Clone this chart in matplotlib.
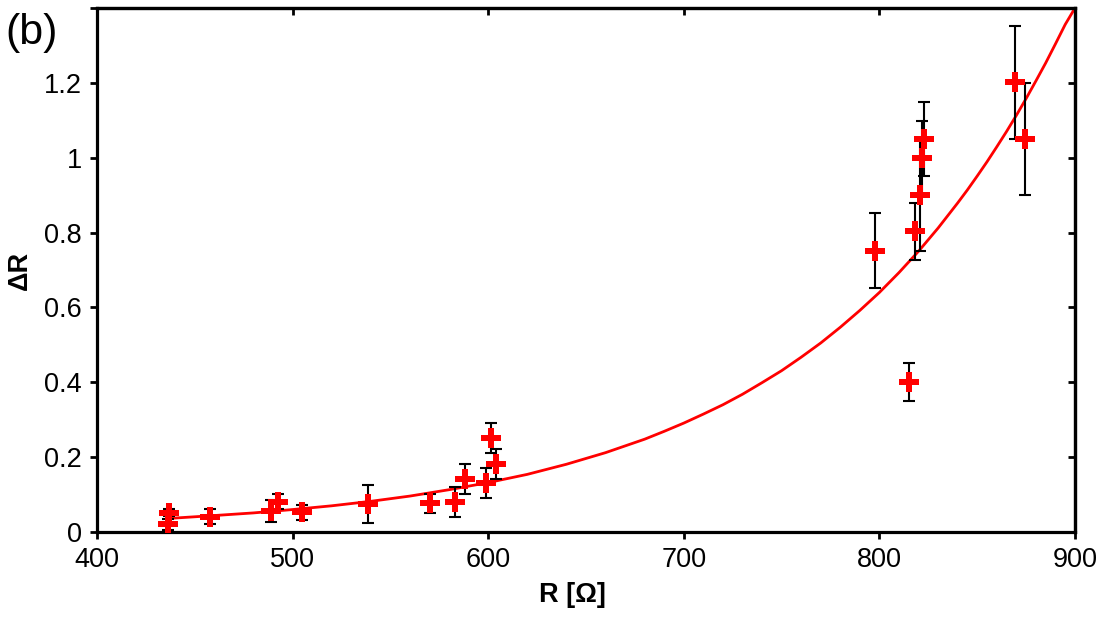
import matplotlib
matplotlib.use("Agg")
import matplotlib.pyplot as plt

plt.rcParams['font.family'] = ['Liberation Sans', 'DejaVu Sans']

# measured data: R [Ohm], Delta R, error
r_vals = [436.5, 437.0, 457.8, 488.8, 492.7, 504.6, 538.7, 570.2, 583.0, 588.1,
          598.9, 601.4, 604.0, 797.8, 815.1, 818.2, 820.8, 821.6, 822.8, 869.3, 874.4]
dr_vals = [0.021, 0.052, 0.041, 0.056, 0.081, 0.053, 0.075, 0.077, 0.081, 0.141,
           0.132, 0.252, 0.181, 0.752, 0.401, 0.803, 0.901, 0.999, 1.050, 1.201, 1.050]
dr_err = [0.015, 0.010, 0.020, 0.030, 0.020, 0.020, 0.050, 0.025, 0.040, 0.040,
          0.040, 0.040, 0.040, 0.100, 0.050, 0.075, 0.150, 0.100, 0.100, 0.150, 0.150]

# fitted trend curve
fit_r = [436, 460, 480, 500, 520, 540, 560, 580, 600, 620, 640, 660, 680, 690,
         700, 710, 720, 730, 740, 750, 760, 770, 780, 790, 800, 810, 820, 830,
         840, 845, 850, 855, 860, 865, 870, 875, 880, 885, 890, 895, 900]
fit_dr = [0.036, 0.044, 0.051, 0.060, 0.070, 0.082, 0.096, 0.113, 0.132, 0.154,
          0.181, 0.212, 0.248, 0.269, 0.291, 0.315, 0.340, 0.368, 0.399, 0.431,
          0.467, 0.505, 0.547, 0.592, 0.640, 0.693, 0.750, 0.812, 0.879, 0.914,
          0.951, 0.989, 1.029, 1.070, 1.113, 1.158, 1.205, 1.253, 1.304, 1.356,
          1.400]

x_ticks = [400, 500, 600, 700, 800, 900]
y_ticks = [0, 0.2, 0.4, 0.6, 0.8, 1.0, 1.2, 1.4]
y_tick_labels = ['0', '0.2', '0.4', '0.6', '0.8', '1', '1.2', '']

fig = plt.figure(figsize=(11, 6.4), dpi=100)
ax = fig.add_axes([97/1100, (640-532)/640, (1075-97)/1100, (532-8)/640])

ax.plot(fit_r, fit_dr, color='#FF0000', lw=2.0, zorder=2,
        solid_joinstyle='round', clip_on=True)
ax.errorbar(r_vals, dr_vals, yerr=dr_err, fmt='none', ecolor='black',
            elinewidth=1.5, capsize=4, capthick=1.5, zorder=3)
ax.plot(r_vals, dr_vals, linestyle='none', marker='P', markersize=14.5,
        color='#FF0000', markeredgewidth=0, zorder=4)

ax.set_xlim(400, 900)
ax.set_ylim(0, 1.4)
ax.set_xticks(x_ticks)
ax.set_yticks(y_ticks)
ax.set_yticklabels(y_tick_labels)

for s in ax.spines.values():
    s.set_linewidth(2.3)
ax.tick_params(direction='out', length=5, width=2, labelsize=19.5, pad=6)

sec_x = ax.secondary_xaxis('top')
sec_x.set_xticks(x_ticks)
sec_x.tick_params(direction='in', length=5, width=2, labeltop=False)
sec_x.spines['top'].set_linewidth(2.3)
sec_y = ax.secondary_yaxis('right')
sec_y.set_yticks(y_ticks)
sec_y.tick_params(direction='in', length=5, width=2, labelright=False)
sec_y.spines['right'].set_linewidth(2.3)

ax.set_xlabel('R [Ω]', fontsize=19.5, fontweight='bold', x=0.486, labelpad=6)
ax.set_ylabel('ΔR', fontsize=19.5, fontweight='bold', labelpad=8)

fig.text(5/1100, 1 - 33/640, '(b)', fontsize=31, va='center', ha='left')

fig.savefig('out.png', dpi=100)
